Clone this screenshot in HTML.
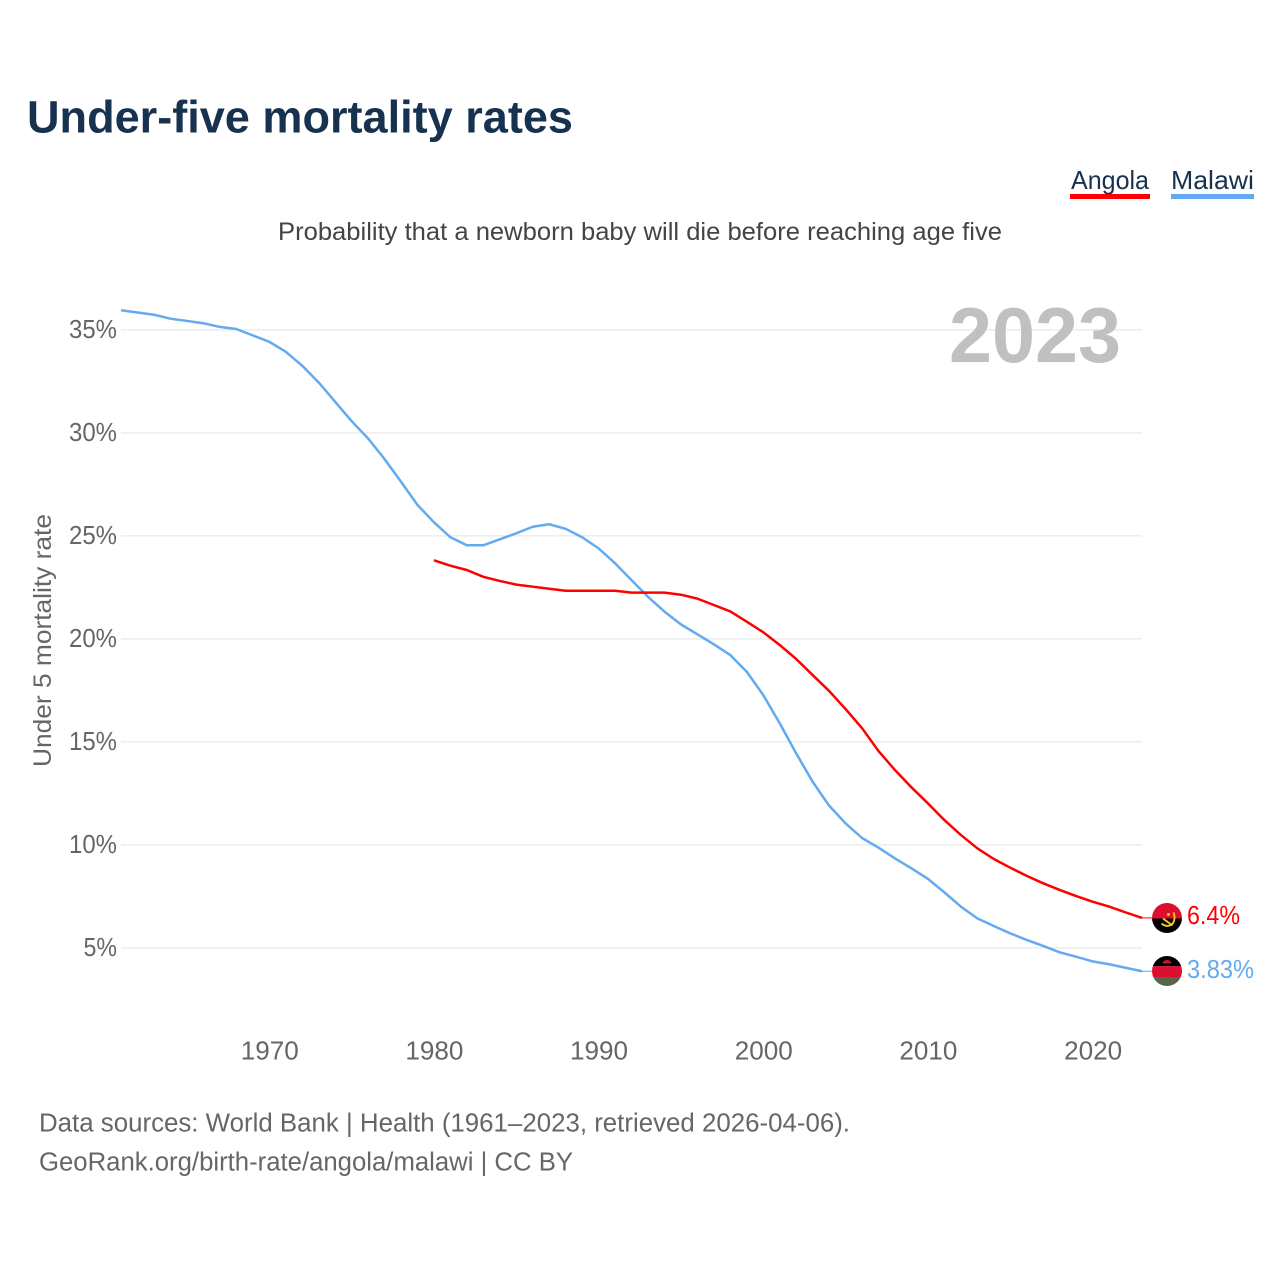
<!DOCTYPE html>
<html lang="en">
<head>
<meta charset="utf-8">
<title>Under-five mortality rates</title>
<style>
html,body{margin:0;padding:0;background:#fff;}
svg{display:block;font-family:"Liberation Sans",sans-serif;}
</style>
</head>
<body>
<svg id="chart" xmlns="http://www.w3.org/2000/svg" width="1280" height="1280" viewBox="0 0 1280 1280">
  <rect width="1280" height="1280" fill="#fff"/>
  <text x="27" y="132.5" font-size="45" font-weight="700" fill="#17324f" textLength="546" lengthAdjust="spacingAndGlyphs">Under-five mortality rates</text>
  <text x="278" y="240" font-size="25" fill="#444" textLength="724" lengthAdjust="spacingAndGlyphs">Probability that a newborn baby will die before reaching age five</text>

  <g>
    <text x="1071" y="189" font-size="26" fill="#17324f" textLength="78" lengthAdjust="spacingAndGlyphs">Angola</text>
    <rect x="1070" y="194" width="80" height="5" fill="#ff0000"/>
  </g>
  <g>
    <text x="1171" y="189" font-size="26" fill="#17324f" textLength="83" lengthAdjust="spacingAndGlyphs">Malawi</text>
    <rect x="1171" y="194" width="83" height="5" fill="#63aaf0"/>
  </g>

  <g id="grid"></g>
  <g id="yticks"></g>
  <g id="xticks"></g>

  <text transform="translate(51,767) rotate(-90)" x="0" y="0" font-size="25" fill="#666" textLength="253" lengthAdjust="spacingAndGlyphs">Under 5 mortality rate</text>
  <text x="949" y="362" font-size="78" font-weight="700" fill="#c0c0c0" textLength="172" lengthAdjust="spacingAndGlyphs">2023</text>

  <g id="series"></g>

  <defs>
    <clipPath id="clip-angola"><circle cx="1167" cy="918" r="15"/></clipPath>
    <clipPath id="clip-malawi"><circle cx="1167" cy="971" r="15"/></clipPath>
  </defs>
  <g clip-path="url(#clip-angola)">
    <rect x="1152" y="903" width="30" height="15.5" fill="#dc0f2f"/>
    <rect x="1152" y="918.5" width="30" height="15.5" fill="#000"/>
    <path d="M1173.5 912.5c2 5 1 10 -2.5 12.5c-3 1.5 -6.500 1 -9.500 -1.500" fill="none" stroke="#f8c728" stroke-width="1.900"/>
    <path d="M1163 918.500l9.500 7" fill="none" stroke="#f8c728" stroke-width="1.900"/>
    <circle cx="1168.500" cy="914.500" r="1.500" fill="#f8c728"/>
  </g>
  <g clip-path="url(#clip-malawi)">
    <rect x="1152" y="956" width="30" height="10.3" fill="#000"/>
    <rect x="1152" y="966.3" width="30" height="10.7" fill="#dc0f2f"/>
    <rect x="1152" y="977" width="30" height="10" fill="#56664a"/>
    <path d="M1162.5 963.5a4.5 3.5 0 0 1 9 0z" fill="#c9142d"/>
  </g>
  <text x="1187" y="924" font-size="26" fill="#ff0000" textLength="53" lengthAdjust="spacingAndGlyphs">6.4%</text>
  <text x="1187" y="978" font-size="26" fill="#63aaf0" textLength="67" lengthAdjust="spacingAndGlyphs">3.83%</text>

  <text x="39" y="1131.5" font-size="25.5" fill="#666" textLength="811" lengthAdjust="spacingAndGlyphs">Data sources: World Bank | Health (1961–2023, retrieved 2026-04-06).</text>
  <a><text x="39" y="1170.5" font-size="25.5" fill="#666" textLength="534" lengthAdjust="spacingAndGlyphs">GeoRank.org/birth-rate/angola/malawi | CC BY</text></a>
</svg>
<script>
var xTickYears = [1970, 1980, 1990, 2000, 2010, 2020];
var yTickValues = [5, 10, 15, 20, 25, 30, 35];
var malawiStartYear = 1961;
var malawiRates = [35.95,35.84,35.73,35.54,35.43,35.32,35.14,35.04,34.73,34.42,33.94,33.26,32.45,31.51,30.57,29.73,28.73,27.63,26.5,25.66,24.93,24.54,24.54,24.83,25.12,25.44,25.56,25.34,24.93,24.39,23.67,22.85,22.04,21.32,20.7,20.22,19.73,19.21,18.4,17.27,15.9,14.44,13.06,11.9,11.04,10.33,9.86,9.34,8.86,8.35,7.69,7.0,6.43,6.06,5.7,5.38,5.09,4.78,4.57,4.34,4.2,4.03,3.86];
var angolaStartYear = 1980;
var angolaRates = [23.81,23.55,23.34,23.01,22.81,22.63,22.53,22.43,22.33,22.33,22.33,22.33,22.24,22.24,22.24,22.14,21.95,21.64,21.33,20.83,20.32,19.7,19.02,18.24,17.47,16.59,15.66,14.55,13.63,12.79,12.01,11.2,10.48,9.83,9.31,8.89,8.49,8.13,7.81,7.51,7.24,7.0,6.72,6.45];

var NS = 'http://www.w3.org/2000/svg';
function xScale(year) { return 121 + (year - 1961) * (1142 - 121) / 62; }
function yScale(v) { return 1050.8 - 20.6 * v; }

var grid = document.getElementById('grid');
var yticks = document.getElementById('yticks');
var xticks = document.getElementById('xticks');
var seriesGroup = document.getElementById('series');

yTickValues.forEach(function (v) {
  var line = document.createElementNS(NS, 'line');
  
  
  line.setAttribute('x1', 121);
  line.setAttribute('x2', 1142);
  line.setAttribute('y1', yScale(v));
  line.setAttribute('y2', yScale(v));
  line.setAttribute('stroke', '#eeeeee');
  line.setAttribute('stroke-width', '1.6');
  grid.appendChild(line);

  var label = document.createElementNS(NS, 'text');
  
  
  label.setAttribute('x', 117);
  label.setAttribute('y', yScale(v) + 8);
  label.setAttribute('text-anchor', 'end');
  label.setAttribute('font-size', '25.5');
  label.setAttribute('fill', '#666');
  label.setAttribute('textLength', String(v).length * 14.5 + 19);
  label.setAttribute('lengthAdjust', 'spacingAndGlyphs');
  label.textContent = v + '%';
  yticks.appendChild(label);
});

xTickYears.forEach(function (year) {
  var label = document.createElementNS(NS, 'text');
  
  
  label.setAttribute('x', xScale(year) + 0.5);
  label.setAttribute('y', 1059.5);
  label.setAttribute('text-anchor', 'middle');
  label.setAttribute('font-size', '25.5');
  label.setAttribute('fill', '#666');
  label.setAttribute('textLength', '58');
  label.setAttribute('lengthAdjust', 'spacingAndGlyphs');
  label.textContent = year;
  xticks.appendChild(label);
});

function drawSeries(startYear, rates, color, name) {
  var pts = rates.map(function (v, i) {
    return xScale(startYear + i).toFixed(2) + ',' + yScale(v).toFixed(2);
  });
  var lastY = yScale(rates[rates.length - 1]);
  var path = document.createElementNS(NS, 'polyline');
  
  
  path.setAttribute('points', pts.join(' '));
  path.setAttribute('fill', 'none');
  path.setAttribute('stroke', color);
  path.setAttribute('stroke-width', '2.5');
  path.setAttribute('stroke-linejoin', 'round');
  seriesGroup.appendChild(path);

  var lead = document.createElementNS(NS, 'line');
  
  
  lead.setAttribute('x1', xScale(2023));
  lead.setAttribute('x2', 1153);
  lead.setAttribute('y1', lastY);
  lead.setAttribute('y2', lastY);
  lead.setAttribute('stroke', color);
  lead.setAttribute('stroke-width', '1');
  seriesGroup.appendChild(lead);
}
drawSeries(malawiStartYear, malawiRates, '#63aaf0', 'malawi');
drawSeries(angolaStartYear, angolaRates, '#ff0000', 'angola');
</script>
</body>
</html>
